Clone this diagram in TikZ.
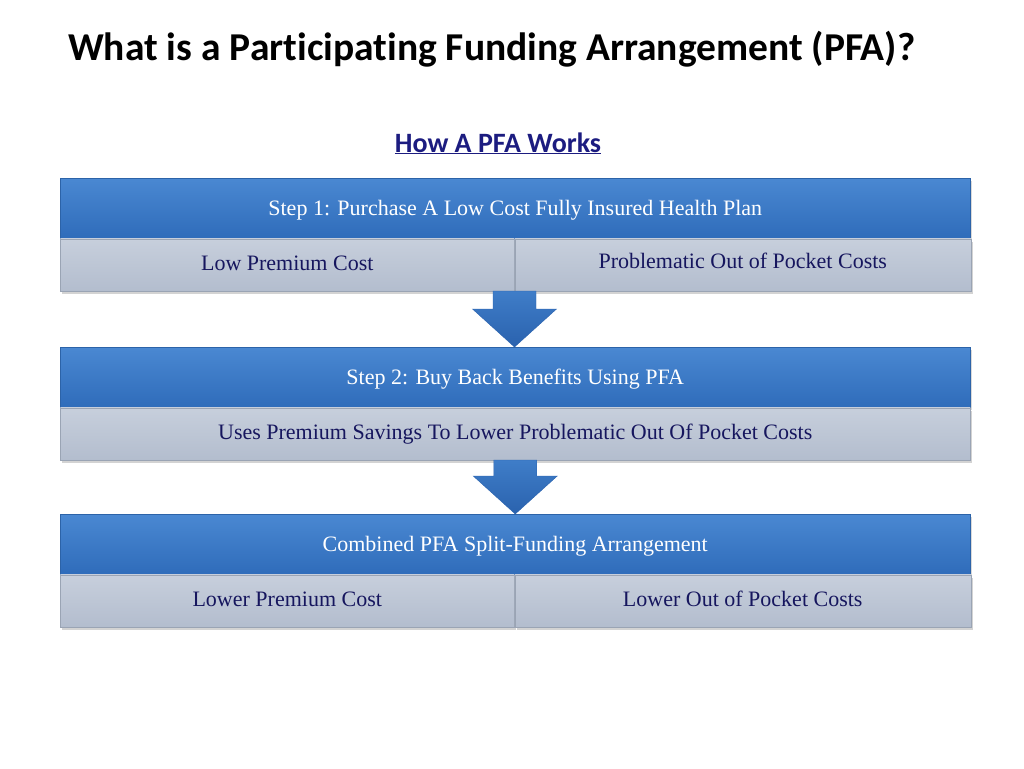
\documentclass[tikz,border=0pt]{standalone}
\usepackage{fontspec}
\setmainfont{Liberation Serif}
\newfontfamily\headfont[Ligatures=NoCommon]{Carlito}
\usetikzlibrary{calc,shadows}

\definecolor{stepbluetop}{HTML}{4A88D2}
\definecolor{stepbluebot}{HTML}{2F6CBA}
\definecolor{stepedge}{HTML}{2C63A8}
\definecolor{cellgraytop}{HTML}{C7CFDC}
\definecolor{cellgraybot}{HTML}{B3BDCE}
\definecolor{celledge}{HTML}{9AA4B4}
\definecolor{celltext}{HTML}{16165E}
\definecolor{pfanavy}{HTML}{1C1C80}
\definecolor{arrowtop}{HTML}{3F7DC8}
\definecolor{arrowbot}{HTML}{2A62AE}

\tikzset{
  stephead/.style={rectangle, inner sep=0pt, minimum width=910, minimum height=60,
    top color=stepbluetop, bottom color=stepbluebot, draw=stepedge, line width=0.5pt,
    text=white, font=\fontsize{22}{26}\selectfont, text height=17pt, text depth=3pt,
    drop shadow={shadow xshift=2pt, shadow yshift=-3pt, opacity=0.3}},
  stepcell/.style={rectangle, inner sep=0pt, minimum height=52,
    top color=cellgraytop, bottom color=cellgraybot, draw=celledge, line width=0.5pt,
    text=celltext, font=\fontsize{22}{26}\selectfont, text height=16pt, text depth=4pt,
    drop shadow={shadow xshift=2pt, shadow yshift=-3pt, opacity=0.35}},
}

% block arrow from the bottom of one box to the top of the next
\newcommand{\pfaarrow}[2]{%
  \shade[top color=arrowtop, bottom color=arrowbot, draw=arrowbot, line width=0.4pt]
    let \p1=(#1), \p2=(#2) in
    (\x1-21.5pt,\y1) -- (\x1+21.5pt,\y1) -- (\x1+21.5pt,\y2+38pt) -- (\x1+42pt,\y2+38pt)
    -- (\x1,\y2) -- (\x1-42pt,\y2+38pt) -- (\x1-21.5pt,\y2+38pt) -- cycle;}

\begin{document}
\begin{tikzpicture}[x=1pt,y=-1pt]
  \useasboundingbox (0,0) rectangle (1024,768);

  \node[anchor=base west, inner sep=0pt, font=\headfont\bfseries\fontsize{39.5}{44}\selectfont] (title) at (68,60)
    {What is a Participating Funding Arrangement (PFA)?};
  \node[anchor=base, text=pfanavy, font=\headfont\bfseries\fontsize{28}{32}\selectfont] (howto) at (498,152)
    {\underline{How A PFA Works}};

  % step 1
  \node[stephead, anchor=north west] (step1) at (60,178) {Step 1: Purchase A Low Cost Fully Insured Health Plan};
  \node[stepcell, minimum width=454, anchor=north west] (low1) at (step1.south west) {Low Premium Cost};
  \node[stepcell, minimum width=456, anchor=north west] (out1) at (low1.north east) {\raisebox{2pt}{Problematic Out of Pocket Costs}};

  % step 2
  \node[stephead, anchor=north west] (step2) at (60,347) {Step 2: Buy Back Benefits Using PFA};
  \node[stepcell, minimum width=910, anchor=north west] (uses2) at (step2.south west)
    {Uses Premium Savings To Lower Problematic Out Of Pocket Costs};

  % combined
  \node[stephead, anchor=north west] (step3) at (60,514) {Combined PFA Split-Funding Arrangement};
  \node[stepcell, minimum width=454, anchor=north west] (low3) at (step3.south west) {Lower Premium Cost};
  \node[stepcell, minimum width=456, anchor=north west] (out3) at (low3.north east) {Lower Out of Pocket Costs};

  \pfaarrow{low1.south east}{step2.north}
  \pfaarrow{uses2.south}{step3.north}
\end{tikzpicture}
\end{document}
